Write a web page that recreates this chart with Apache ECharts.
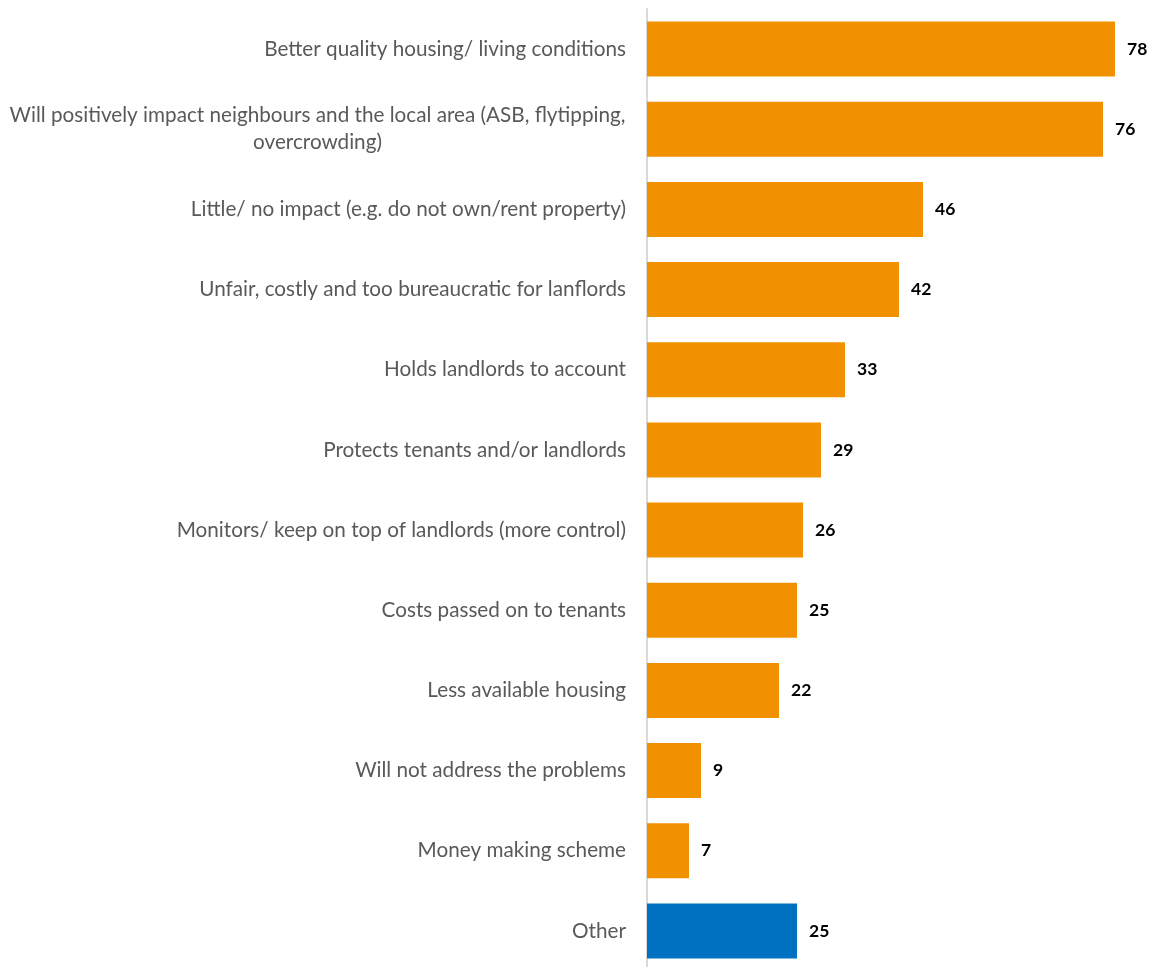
<!DOCTYPE html>
<html><head><meta charset="utf-8">
<script src="https://cdn.jsdelivr.net/npm/echarts@6/dist/echarts.min.js"></script>
<style>html,body{margin:0;padding:0;background:#fff}#c{width:1159px;height:967px}</style>
</head><body><div id="c"></div>
<script>
const categories = [
  "Better quality housing/ living conditions",
  "Will positively impact neighbours and the local area (ASB, flytipping,\novercrowding)",
  "Little/ no impact (e.g. do not own/rent property)",
  "Unfair, costly and too bureaucratic for lanflords",
  "Holds landlords to account",
  "Protects tenants and/or landlords",
  "Monitors/ keep on top of landlords (more control)",
  "Costs passed on to tenants",
  "Less available housing",
  "Will not address the problems",
  "Money making scheme",
  "Other"
];
const values = [78, 76, 46, 42, 33, 29, 26, 25, 22, 9, 7, 25];
const highlight = ["Other"];

const FONT = 'Lato';
const chart = echarts.init(document.getElementById('c'));
chart.setOption({
  animation: false,
  grid: {left: 647, top: 9, width: 480, height: 962, containLabel: false, outerBoundsMode: 'none'},
  xAxis: {type: 'value', min: 0, max: 80, show: false},
  yAxis: {
    type: 'category', inverse: true, data: categories,
    axisLine: {show: true, lineStyle: {color: '#d9d9d9', width: 2}},
    axisTick: {show: false},
    axisLabel: {
      margin: 21, color: '#595959', fontFamily: FONT, fontSize: 20.7,
      formatter: function (v) {
        if (v.indexOf('\n') >= 0) {
          return v.split('\n').map(s => '{c|' + s + '}').join('\n');
        }
        return v;
      },
      rich: {c: {width: 617, align: 'center', color: '#595959', fontFamily: FONT, fontSize: 20.7, lineHeight: 27}}
    }
  },
  series: [{
    type: 'bar', barWidth: 55,
    data: values.map((v, i) => ({
      value: v,
      itemStyle: {color: highlight.includes(categories[i]) ? '#0070C0' : '#F29100'}
    })),
    label: {show: true, position: 'right', distance: 12, color: '#000', fontWeight: 'bold', fontFamily: FONT, fontSize: 17.5}
  }]
});
</script></body></html>
